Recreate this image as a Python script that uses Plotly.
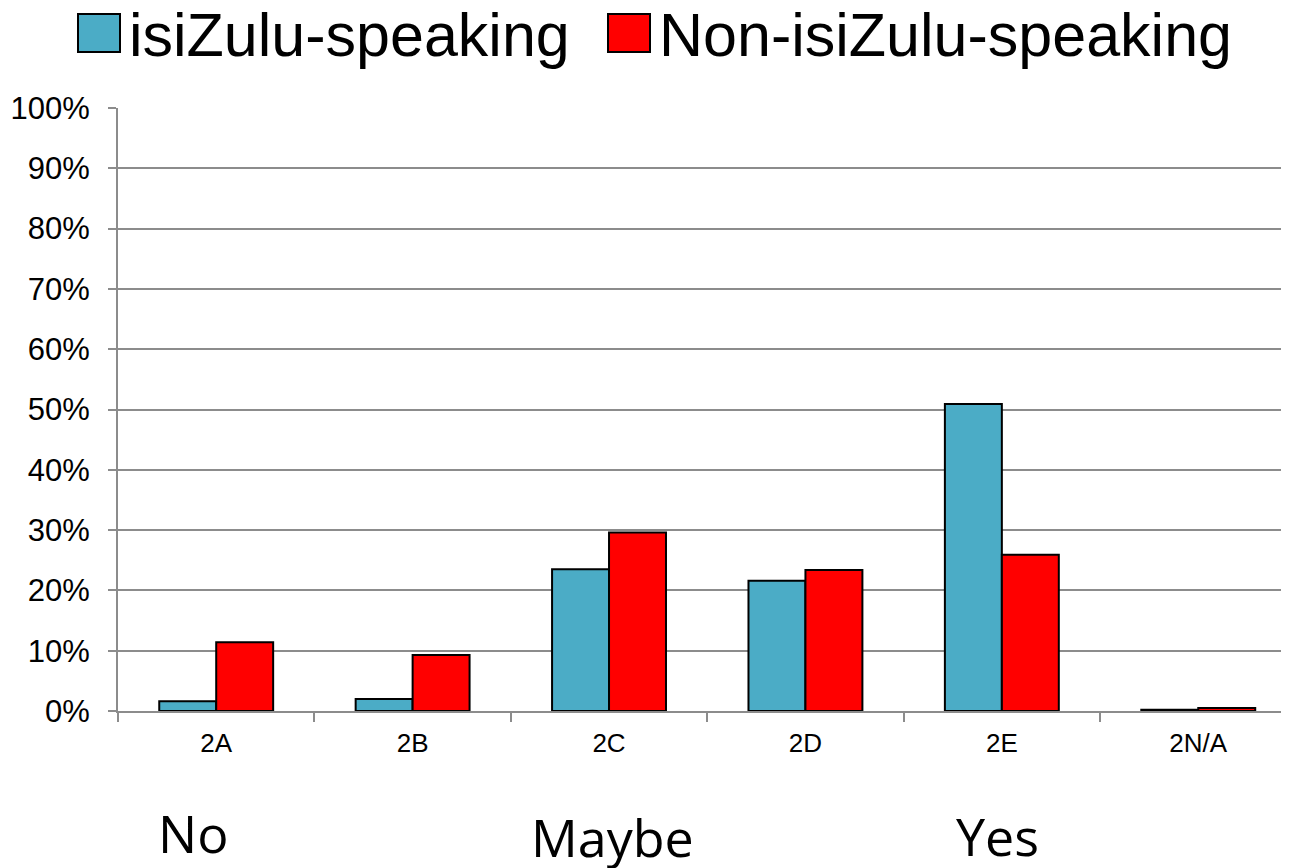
import plotly.graph_objects as go

categories = ["2A", "2B", "2C", "2D", "2E", "2N/A"]
zulu = [1.6, 2.0, 23.5, 21.6, 50.9, 0.2]
non_zulu = [11.4, 9.3, 29.6, 23.4, 25.9, 0.5]
series_names = ["isiZulu-speaking", "Non-isiZulu-speaking"]
series_colors = ["#4BACC6", "#FF0000"]
y_ticks = list(range(0, 101, 10))
answer_labels = ["No", "Maybe", "Yes"]

fig = go.Figure()
for name, vals, color in zip(series_names, [zulu, non_zulu], series_colors):
    fig.add_trace(
        go.Bar(
            x=categories,
            y=vals,
            name=name,
            marker=dict(color=color, line=dict(color="black", width=2)),
        )
    )

# page body has an 8px margin, so the figure is shrunk by that much
fig.update_layout(
    width=1281,
    height=860,
    margin=dict(l=110, r=0, t=100, b=157),
    paper_bgcolor="white",
    plot_bgcolor="white",
    barmode="group",
    bargap=0.42,
    bargroupgap=0,
    showlegend=False,
    font=dict(family="Arial, Liberation Sans", color="black"),
)

fig.update_xaxes(
    range=[-0.5, 5.462],
    showline=True,
    linecolor="#8c8c8c",
    linewidth=2,
    ticks="outside",
    tickson="boundaries",
    ticklen=9,
    tickwidth=2,
    tickcolor="#8c8c8c",
    tickfont=dict(size=26),
    ticklabelstandoff=8,
    showgrid=False,
)
fig.update_yaxes(
    range=[0, 100],
    tickvals=y_ticks,
    ticktext=[f"{v}%" for v in y_ticks],
    showline=True,
    linecolor="#8c8c8c",
    linewidth=2,
    ticks="outside",
    ticklen=8,
    tickwidth=2,
    tickcolor="#8c8c8c",
    tickfont=dict(size=31),
    ticklabelstandoff=12,
    showgrid=True,
    gridcolor="#8c8c8c",
    gridwidth=2,
    zeroline=False,
)

# hand-drawn legend with large swatches (positions in page pixels)
def px_x(p):
    return (p - 118) / 1171


def px_y(p):
    return (711 - p) / 603


legend_items = [(78, 127), (608, 657)]
for (sx, tx), name, color in zip(legend_items, series_names, series_colors):
    fig.add_shape(
        type="rect",
        xref="paper",
        yref="paper",
        x0=px_x(sx),
        x1=px_x(sx + 42),
        y0=px_y(52),
        y1=px_y(14),
        fillcolor=color,
        line=dict(color="black", width=2),
    )
    fig.add_annotation(
        xref="paper",
        yref="paper",
        x=px_x(tx),
        y=px_y(35),
        xanchor="left",
        yanchor="middle",
        text=name,
        showarrow=False,
        font=dict(family="Liberation Sans, Arial", size=61, color="black"),
    )

# answer labels below the axis
for label, cx, cy in zip(answer_labels, [193, 612, 997], [832, 836, 835]):
    fig.add_annotation(
        xref="paper",
        yref="paper",
        x=px_x(cx),
        y=px_y(cy),
        xanchor="center",
        yanchor="middle",
        text=label,
        showarrow=False,
        font=dict(family="Open Sans", size=52, color="black"),
    )

fig.write_html("out.html")
